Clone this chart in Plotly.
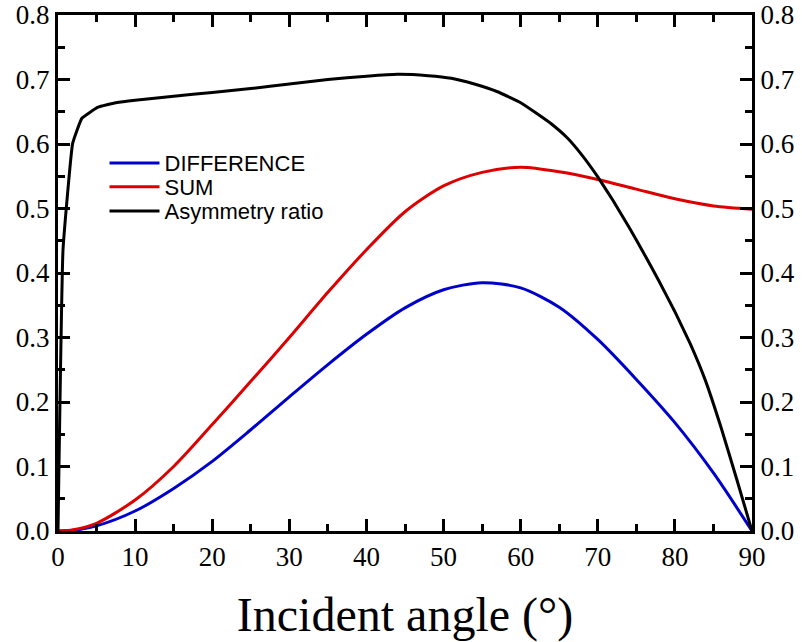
import plotly.graph_objects as go

# Data
angle_diff = [0, 2, 5, 10, 15, 20, 25, 30, 35, 40, 45, 50, 55, 60, 65, 70, 75, 80, 85, 90]
difference = [0, 0.001, 0.008, 0.031, 0.066, 0.108, 0.157, 0.208, 0.258, 0.305, 0.346, 0.374, 0.385, 0.377, 0.347, 0.297, 0.235, 0.168, 0.090, 0.0]

angle_sum = [0, 2, 5, 10, 15, 20, 25, 30, 35, 40, 45, 50, 55, 60, 65, 70, 75, 80, 85, 90]
total = [0, 0.002, 0.012, 0.048, 0.100, 0.165, 0.232, 0.300, 0.370, 0.436, 0.495, 0.535, 0.556, 0.564, 0.557, 0.545, 0.530, 0.515, 0.504, 0.499]

angle_ratio = [0, 0.65, 1.9, 3.1, 5.2, 7.5, 10, 15, 20, 25, 30, 35, 40, 44, 48, 51, 54, 57, 60, 62, 64,
               66, 68, 70, 72, 74, 76, 78, 80, 82, 84, 86, 88, 90]
ratio = [0, 0.436, 0.601, 0.640, 0.657, 0.664, 0.668, 0.674, 0.680, 0.686, 0.693, 0.700, 0.705, 0.708,
         0.706, 0.702, 0.693, 0.681, 0.664, 0.648, 0.631, 0.610, 0.582, 0.549, 0.512, 0.472, 0.430,
         0.386, 0.340, 0.290, 0.232, 0.160, 0.081, 0.0]

x_ticks = [0, 10, 20, 30, 40, 50, 60, 70, 80, 90]
y_ticks = [0.0, 0.1, 0.2, 0.3, 0.4, 0.5, 0.6, 0.7, 0.8]

fig = go.Figure()
fig.add_trace(go.Scatter(x=angle_diff, y=difference, mode="lines", name="DIFFERENCE", legend="legend",
                         line=dict(color="#0000cc", width=3, shape="spline", smoothing=0.8)))
fig.add_trace(go.Scatter(x=angle_sum, y=total, mode="lines", name="SUM", legend="legend2",
                         line=dict(color="#dd0000", width=3, shape="spline", smoothing=0.8)))
fig.add_trace(go.Scatter(x=angle_ratio, y=ratio, mode="lines", name="Asymmetry ratio", legend="legend3",
                         line=dict(color="black", width=3, shape="spline", smoothing=0.3)))
fig.add_trace(go.Scatter(x=[0], y=[0], yaxis="y2", mode="markers", showlegend=False,
                         marker=dict(opacity=0), hoverinfo="skip"))

tickfont = dict(family="Liberation Serif, Times New Roman, serif", size=27, color="black")
minor_y = dict(ticks="inside", ticklen=7, tickwidth=3, tickcolor="black", dtick=0.05, showgrid=False)
legfont = dict(family="Liberation Sans, Arial, sans-serif", size=22, color="black")


def leg(y):
    return dict(x=0.067, y=y, xanchor="left", yanchor="middle", font=legfont,
                bgcolor="rgba(0,0,0,0)", itemwidth=50)


fig.update_layout(
    width=802, height=642,
    margin=dict(l=58, r=50, t=15, b=111, autoexpand=False),
    plot_bgcolor="white", paper_bgcolor="white",
    showlegend=True,
    legend=leg(0.713), legend2=leg(0.667), legend3=leg(0.620),
    xaxis=dict(range=[0, 90], tickvals=x_ticks, ticks="inside", ticklen=12, tickwidth=3,
               tickcolor="black", showline=True, linewidth=3, linecolor="black",
               mirror="ticks", showgrid=False, zeroline=False, tickfont=tickfont, automargin=False,
               ticklabeloverflow="allow",
               minor=dict(ticks="inside", ticklen=7, tickwidth=3, tickcolor="black", dtick=5, showgrid=False),
               title=dict(text="Incident angle (°)", standoff=35,
                          font=dict(family="Liberation Serif, Times New Roman, serif", size=48, color="black"))),
    yaxis=dict(range=[0, 0.8], tickvals=y_ticks, tickformat=".1f", ticks="inside", ticklen=12,
               tickwidth=3, tickcolor="black", showline=True, linewidth=3, linecolor="black",
               showgrid=False, zeroline=False, tickfont=tickfont, automargin=False, minor=minor_y,
               ticklabeloverflow="allow"),
    yaxis2=dict(range=[0, 0.8], tickvals=y_ticks, tickformat=".1f", overlaying="y", side="right",
                ticks="inside", ticklen=12, tickwidth=3, tickcolor="black", showline=True,
                linewidth=3, linecolor="black", showgrid=False, zeroline=False, tickfont=tickfont,
                automargin=False, minor=minor_y, ticklabeloverflow="allow"),
)

fig.write_html("out.html", config={"displayModeBar": False},
               post_script="document.body.style.margin='0';document.body.style.overflow='hidden';")
